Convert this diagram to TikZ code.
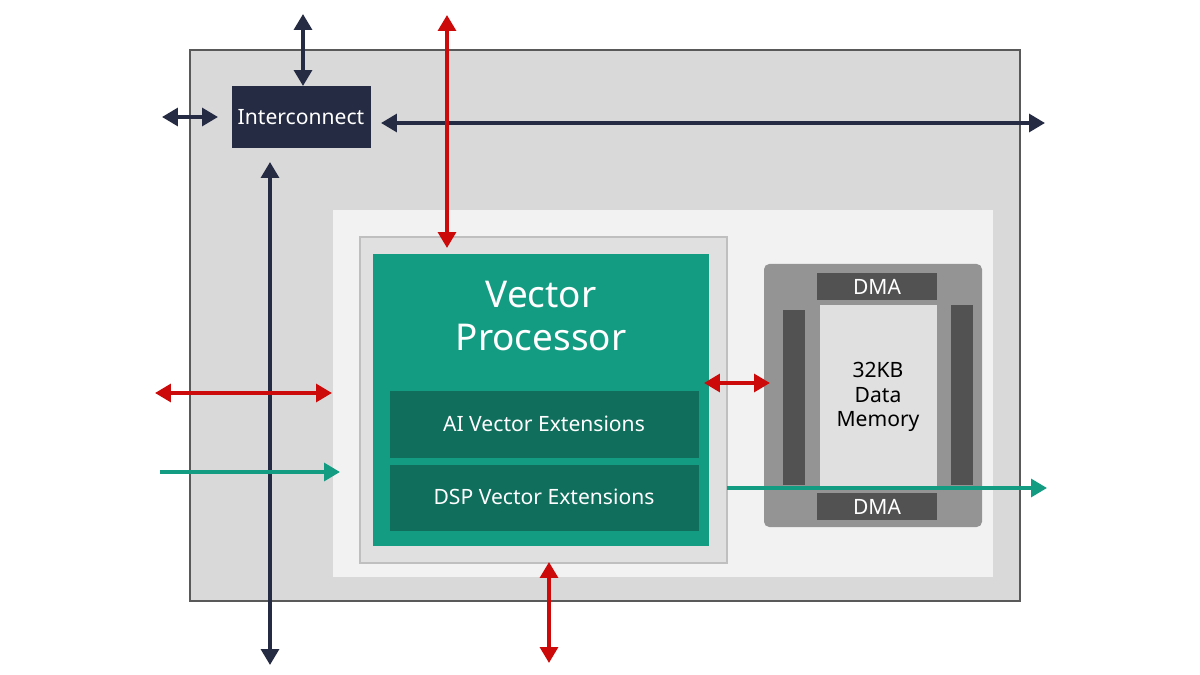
\documentclass[tikz,border=0pt]{standalone}
\usepackage{fontspec}
\setmainfont{Noto Sans}
\usetikzlibrary{arrows.meta,positioning}
\definecolor{navy}{HTML}{252B42}
\definecolor{rd}{HTML}{CC0A0A}
\definecolor{teal1}{HTML}{149C82}
\definecolor{teal2}{HTML}{0F6E5C}
\begin{document}
\begin{tikzpicture}[x=0.02cm,y=-0.02cm,
    box/.style={draw=none,inner sep=0pt},
    bus/.style={line width=2.2pt,-{Triangle[length=9pt,width=10pt]}},
    bbus/.style={bus,{Triangle[length=9pt,width=10pt]}-{Triangle[length=9pt,width=10pt]}}]
			\useasboundingbox (0,0) rectangle (1200,675);
			
			\fill[fill=white] (0,0) rectangle (1200,675);
			\draw[fill=black!15,draw=black!65,line width=1.2pt] (190,50) rectangle (1020,601);
			\fill[black!5] (333,210) rectangle (993,577);
			\draw[fill=black!12,draw=black!25,line width=1pt] (360,237) rectangle (727,563);
			
			% processor
			\fill[teal1] (373,254) rectangle (709,546);
			\node[text=white,font=\fontsize{21pt}{25pt}\selectfont,align=center] (vp) at (541,316) {Vector\\Processor};
			\fill[teal2] (390,391) rectangle (699,458);
			\node[text=white,font=\large] (ai) at (544,424) {AI Vector Extensions};
			\fill[teal2] (390,465) rectangle (699,531);
			\node[text=white,font=\large] (dsp) at (544,497) {DSP Vector Extensions};
			
			% memory
			\fill[black!42,rounded corners=3pt] (764,264) rectangle (982,527);
			\fill[black!12] (820,305) rectangle (937,490);
			\fill[black!68] (783,310) rectangle (805,485);
			\fill[black!68] (951,305) rectangle (973,485);
			\fill[black!68] (817,273) rectangle (937,300);
			\fill[black!68] (817,493) rectangle (937,520);
			\node[text=white,font=\large] (dmaA) at (877,287) {DMA};
			\node[text=white,font=\large] (dmaB) at (877,507) {DMA};
			\node[align=center,font=\large] (mem) at (878,397) {32KB\\Data\\Memory};
			
			% interconnect
			\fill[navy] (232,86) rectangle (371,148);
			\node[text=white,font=\large] (ic) at (301,117) {Interconnect};
			
			\coordinate (a1) at (303,14);   \coordinate (a2) at (303,86);
			\coordinate (b1) at (162,117);  \coordinate (b2) at (218,117);
			\coordinate (c1) at (381,123);  \coordinate (c2) at (1045,123);
			\coordinate (d1) at (270,162);  \coordinate (d2) at (270,665);
			\coordinate (e1) at (447,15);   \coordinate (e2) at (447,248);
			\coordinate (f1) at (155,393);  \coordinate (f2) at (332,393);
			\coordinate (g1) at (704,383);  \coordinate (g2) at (770,383);
			\coordinate (h1) at (549,562);  \coordinate (h2) at (549,663);
			\coordinate (i1) at (160,472);  \coordinate (i2) at (340,472);
			\coordinate (j1) at (727,488);  \coordinate (j2) at (1047,488);
			
			\draw[bbus,navy] (a1) -- (a2);
			\draw[bbus,navy] (b1) -- (b2);
			\draw[bbus,navy] (c1) -- (c2);
			\draw[bbus,navy] (d1) -- (d2);
			\draw[bbus,rd] (e1) -- (e2);
			\draw[bbus,rd] (f1) -- (f2);
			\draw[bbus,rd] (g1) -- (g2);
			\draw[bbus,rd] (h1) -- (h2);
			\draw[bus,teal1] (i1) -- (i2);
			\draw[bus,teal1] (j1) -- (j2);
		\end{tikzpicture}
\end{document}
